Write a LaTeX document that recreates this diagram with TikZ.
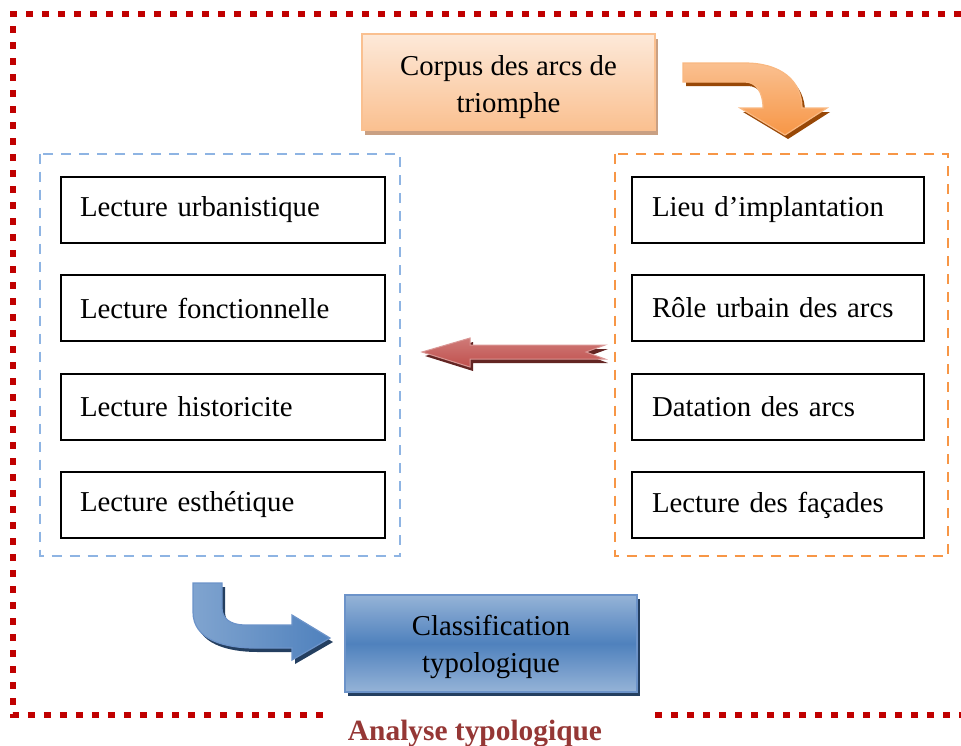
\documentclass[tikz,border=0pt]{standalone}
\usepackage{fontspec}
\setmainfont{Liberation Serif}
\usetikzlibrary{positioning,calc,shadows}
\definecolor{frameRed}{HTML}{C00000}
\definecolor{titleRed}{HTML}{953735}
\definecolor{dashBlue}{HTML}{8EB4E3}
\definecolor{dashOrange}{HTML}{F79646}
\definecolor{orPale}{HTML}{FDE9D9}
\definecolor{orLight}{HTML}{FAC090}
\definecolor{orMid}{HTML}{F79646}
\definecolor{orShadow}{HTML}{C9A083}
\definecolor{orDark}{HTML}{984807}
\definecolor{redMain}{HTML}{C0504D}
\definecolor{redLight}{HTML}{D99694}
\definecolor{redDark}{HTML}{632523}
\definecolor{blMain}{HTML}{4F81BD}
\definecolor{blLight}{HTML}{95B3D7}
\definecolor{blBorder}{HTML}{6C93C9}
\definecolor{blDark}{HTML}{243F60}

% block arrows, in pixel units
\def\orangearrow{(683,63) -- (745,63) .. controls (780,63) and (802,80) .. (802,108) -- (827,108) -- (785,135) -- (740,108) -- (763,108) .. controls (763,92) and (756,82) .. (745,82) -- (683,82) -- cycle}
\def\redarrow{(422,352) -- (470,338) -- (470,345) -- (605,345) -- (586,352) -- (605,359) -- (470,359) -- (470,367) -- cycle}
\def\bluearrow{(193,583) -- (193,612) .. controls (193,640) and (225,648) .. (255,648) -- (292,648) -- (292,660) -- (330,638) -- (292,615) -- (292,625) -- (245,625) .. controls (230,625) and (222,618) .. (222,608) -- (222,583) -- cycle}

\begin{document}
\begin{tikzpicture}[x=0.5pt,y=-0.5pt,font=\fontsize{14.4}{18.5}\selectfont,
  lbox/.style={draw,line width=1pt,minimum height=33pt,text width=143pt,inner xsep=9.5pt,inner ysep=0pt,align=left,anchor=west},
  rbox/.style={lbox,text width=126pt,inner xsep=10pt},
  ldash/.style={dashBlue,line width=1pt,dash pattern=on 5pt off 4pt},
  rdash/.style={ldash,dashOrange},
  dotframe/.style={frameRed,line width=3.3pt,dash pattern=on 3.3pt off 4.7pt}]
\useasboundingbox (0,0) rectangle (961,745);
\draw[dotframe] (961,14) -- (13,14) -- (13,715) -- (325,715);
\draw[dotframe] (655,715) -- (961,715);
\node[font=\fontsize{14.7}{17}\selectfont\bfseries,text=titleRed,anchor=base] (title) at (475,740) {Analyse typologique};

\node[draw=orLight,line width=0.8pt,top color=orPale,bottom color=orLight,minimum width=146.5pt,minimum height=48pt,align=center,
  drop shadow={shadow xshift=1.5pt,shadow yshift=-2.5pt,fill=orShadow,opacity=1}] (corpus) at (508.5,82) {\rule{0pt}{15pt}Corpus des arcs de\\triomphe};
\fill[orDark,shift={(3,4)}] \orangearrow;
\shade[top color=orLight,bottom color=orMid,draw=orLight!80!orMid,line width=0.6pt] \orangearrow;

\foreach \t [count=\i] in {Lecture urbanistique,Lecture fonctionnelle,Lecture historicite,Lecture esthétique}
  \node[lbox] (l\i) at (60,111+98.5*\i) {\t};
\foreach \t [count=\i] in {Lieu d’implantation,Rôle urbain des arcs,Datation des arcs,Lecture des façades}
  \node[rbox] (r\i) at (631,111+98.5*\i) {\t};
\draw[ldash] ($(l1.north west)+(-20,-22)$) rectangle ($(l4.south east)+(14,17)$);
\draw[rdash] ($(r1.north west)+(-16,-22)$) rectangle ($(r4.south east)+(23,17)$);

\fill[redDark,shift={(3,4)}] \redarrow;
\shade[top color=redLight!60!redMain,bottom color=redMain,draw=redLight,line width=0.5pt] \redarrow;

\fill[blDark,shift={(3,4)}] \bluearrow;
\shade[left color=blLight!70!blMain,right color=blMain,draw=blBorder,line width=0.6pt] \bluearrow;
\node[draw=blBorder,line width=1pt,top color=blLight,bottom color=blLight,middle color=blMain,minimum width=146pt,minimum height=48.5pt,align=center,
  drop shadow={shadow xshift=1.5pt,shadow yshift=-2pt,fill=blDark,opacity=1}] (classif) at (491,643.5) {\rule{0pt}{14pt}Classification\\typologique};
\end{tikzpicture}
\end{document}
